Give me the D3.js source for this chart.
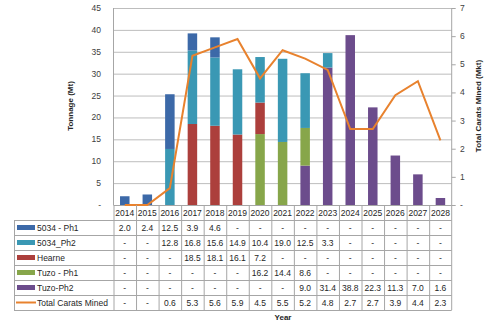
<!DOCTYPE html>
<html><head><meta charset="utf-8">
<script src="https://cdn.jsdelivr.net/npm/d3@7"></script>
<style>body{margin:0;background:#fff}svg{display:block}text{font-family:"Liberation Sans",Arial,sans-serif}</style>
</head><body>
<svg id="c" width="487" height="327"></svg>
<script>
const years = ["2014","2015","2016","2017","2018","2019","2020","2021","2022","2023","2024","2025","2026","2027","2028"];
const seriesNames = ["5034 - Ph1","5034_Ph2","Hearne","Tuzo - Ph1","Tuzo-Ph2"];
const ph1_5034 = [2.0,2.4,12.5,3.9,4.6,null,null,null,null,null,null,null,null,null,null];
const ph2_5034 = [null,null,12.8,16.8,15.6,14.9,10.4,19.0,12.5,3.3,null,null,null,null,null];
const hearne   = [null,null,null,18.5,18.1,16.1,7.2,null,null,null,null,null,null,null,null];
const tuzoPh1  = [null,null,null,null,null,null,16.2,14.4,8.6,null,null,null,null,null,null];
const tuzoPh2  = [null,null,null,null,null,null,null,null,9.0,31.4,38.8,22.3,11.3,7.0,1.6];
const carats   = [null,null,0.6,5.3,5.6,5.9,4.5,5.5,5.2,4.8,2.7,2.7,3.9,4.4,2.3];
const leftTicks = [0,5,10,15,20,25,30,35,40,45];
const rightTicks = [0,1,2,3,4,5,6,7];
const colors = ["#3C69A8","#3A98B4","#AC3F3C","#87A64A","#6C4C8C"];
const lineColor = "#E8822E";

const svg = d3.select("#c");
const L = 113.5, R = 451.7, T = 8, B = 205;
const x = d3.scaleBand().domain(years).range([L,R]);
const y = d3.scaleLinear().domain([0,45]).range([B,T]);
const y2 = d3.scaleLinear().domain([0,7]).range([B,T]);

// gridlines
svg.append("g").selectAll("line").data(leftTicks.slice(1)).join("line")
  .attr("x1",L).attr("x2",R).attr("y1",d=>y(d)+0.5).attr("y2",d=>y(d)+0.5)
  .attr("stroke","#BDBDBD").attr("stroke-width",1);

// stacks, bottom to top
const seriesData = [ph1_5034, ph2_5034, hearne, tuzoPh1, tuzoPh2];
const order = [4,3,2,1,0];
const rows = years.map((yr,i)=>{const o={year:yr}; seriesNames.forEach((n,k)=>o[n]=seriesData[k][i]||0); return o;});
const stack = d3.stack().keys(order.map(k=>seriesNames[k]))(rows);
const bw = 9.5;
stack.forEach((layer,li)=>{
  const col = colors[order[li]];
  svg.append("g").selectAll("rect").data(layer).join("rect")
    .attr("x",d=>x(d.data.year)+x.bandwidth()/2-bw/2)
    .attr("width",bw)
    .attr("y",d=>y(d[1]))
    .attr("height",d=>Math.max(0,y(d[0])-y(d[1])))
    .attr("fill",col);
});

// axes lines
svg.append("line").attr("x1",L).attr("x2",L).attr("y1",T).attr("y2",B).attr("stroke","#A6A6A6");
svg.append("line").attr("x1",R).attr("x2",R).attr("y1",T).attr("y2",B).attr("stroke","#A6A6A6");
svg.append("line").attr("x1",L).attr("x2",R).attr("y1",B+0.5).attr("y2",B+0.5).attr("stroke","#A6A6A6");
// right ticks
svg.append("g").selectAll("line").data(rightTicks).join("line")
  .attr("x1",R).attr("x2",R+4).attr("y1",d=>y2(d)+0.5).attr("y2",d=>y2(d)+0.5).attr("stroke","#A6A6A6");

// left labels
svg.append("g").selectAll("text").data(leftTicks).join("text")
  .attr("x",101).attr("y",d=>y(d)+3).attr("text-anchor","end")
  .attr("font-size",8.5).attr("fill","#404040").text(d=>d===0?"-":d);
svg.append("g").selectAll("text").data(rightTicks).join("text")
  .attr("x",460).attr("y",d=>y2(d)+3).attr("text-anchor","start")
  .attr("font-size",8.5).attr("fill","#404040").text(d=>d===0?"-":d);

// axis titles
svg.append("text").attr("transform","translate(73,106) rotate(-90)").attr("text-anchor","middle")
  .attr("font-size",8).attr("font-weight","bold").attr("fill","#262626").text("Tonnage (Mt)");
svg.append("text").attr("transform","translate(481,106) rotate(-90)").attr("text-anchor","middle")
  .attr("font-size",8).attr("font-weight","bold").attr("fill","#262626").text("Total Carats Mined (Mkt)");

// line
const lineVals = carats.map(v=>v||0);
svg.append("path").datum(lineVals)
  .attr("d",d3.line().x((d,i)=>x(years[i])+x.bandwidth()/2).y(d=>y2(d)))
  .attr("fill","none").attr("stroke",lineColor).attr("stroke-width",2);

// table
const tb = svg.append("g");
const hdrTop = B, hdrBot = 220, rowH = 15, tblLeft = 14;
const tblBot = hdrBot + rowH*6;
const gridC = "#A6A6A6";
// vertical lines
years.forEach((yr,i)=>{
  tb.append("line").attr("x1",x(yr)+0.5).attr("x2",x(yr)+0.5).attr("y1",hdrTop).attr("y2",tblBot).attr("stroke",gridC);
});
tb.append("line").attr("x1",R).attr("x2",R).attr("y1",hdrTop).attr("y2",tblBot).attr("stroke",gridC);
tb.append("line").attr("x1",tblLeft+0.5).attr("x2",tblLeft+0.5).attr("y1",hdrBot).attr("y2",tblBot).attr("stroke",gridC);
for(let r=0;r<=6;r++){
  tb.append("line").attr("x1",tblLeft).attr("x2",R).attr("y1",hdrBot+r*rowH+0.5).attr("y2",hdrBot+r*rowH+0.5).attr("stroke",gridC);
}
// header
tb.selectAll("text.h").data(years).join("text").attr("class","h")
  .attr("x",d=>x(d)+x.bandwidth()/2).attr("y",hdrBot-4).attr("text-anchor","middle")
  .attr("font-size",8.5).attr("fill","#262626").text(d=>d);
const tableRows = seriesData.concat([carats]);
const rowNames = seriesNames.concat(["Total Carats Mined"]);
tableRows.forEach((vals,r)=>{
  const cy = hdrBot + r*rowH + rowH/2;
  if(r<5){
    tb.append("rect").attr("x",17).attr("y",cy-2.5).attr("width",18).attr("height",5).attr("fill",colors[r]);
  } else {
    tb.append("line").attr("x1",16).attr("x2",36).attr("y1",cy).attr("y2",cy).attr("stroke",lineColor).attr("stroke-width",2);
  }
  tb.append("text").attr("x",37).attr("y",cy+3).attr("font-size",8.5).attr("fill","#262626").text(rowNames[r]);
  tb.selectAll(null).data(vals).join("text")
    .attr("x",(d,i)=>x(years[i])+x.bandwidth()/2).attr("y",cy+3).attr("text-anchor","middle")
    .attr("font-size",8.5).attr("fill","#262626").text(d=>d==null?"-":d.toFixed(1));
});
svg.append("text").attr("x",283).attr("y",320).attr("text-anchor","middle")
  .attr("font-size",8).attr("font-weight","bold").attr("fill","#262626").text("Year");
</script>
</body></html>
